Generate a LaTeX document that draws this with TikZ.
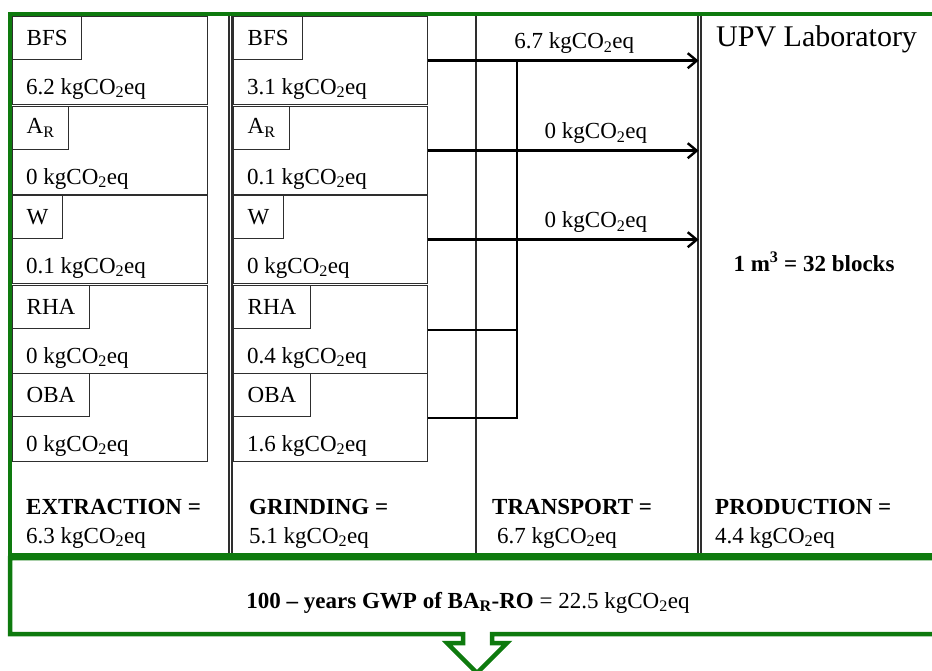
\documentclass[tikz,border=0pt]{standalone}
\usepackage{fontspec}
\setmainfont{Liberation Serif}
\usetikzlibrary{arrows.meta, positioning, calc}
\definecolor{verde}{HTML}{0E7A0E}
\definecolor{borde}{HTML}{2E2E2E}
\newcommand{\coeq}{kgCO\textsubscript{2}eq}
\newcommand{\tam}{\fontsize{23}{27}\selectfont}
\tikzset{
  columna/.style={rectangle, draw=borde, line width=1.6pt, anchor=north west, inner sep=0pt, minimum height=541pt},
  fila/.style={rectangle, draw=borde, line width=1.4pt, anchor=north west, inner sep=0pt, minimum height=88pt},
  etiq/.style={rectangle, draw=borde, line width=1.4pt, anchor=north west, inner xsep=14pt, inner ysep=0pt, minimum height=43pt},
  valor/.style={inner sep=0pt, above right=6pt and 14pt of #1},
  total/.style={anchor=base west, inner sep=0pt, align=left, font=\fontsize{23}{29}\selectfont},
  carga/.style={inner sep=0pt, above=6pt},
  flecha/.style={line width=2.4pt, -{Straight Barb[length=9pt, width=15pt]}, color=black},
  linea/.style={line width=2.4pt, color=black},
  marco/.style={draw=verde, line width=4.5pt}
}

\begin{document}
\begin{tikzpicture}[x=1pt, y=-1pt, font=\tam]
  \useasboundingbox (0,0) rectangle (932,671);
  \clip (0,0) rectangle (932,671);
  % stage columns
  \node (cext) [columna, minimum width=218pt] at (10,14) {};
  \node (cgri) [columna, minimum width=244pt] at (231,14) {};
  \node (ctra) [columna, minimum width=222pt] at (475,14) {};
  \node (cpro) [columna, minimum width=260pt] at (700,14) {};
  % extraction
  \node (e1) [fila, minimum width=195pt] at (12,16) {};
  \node (e2) [fila, minimum width=195pt] at (12,106) {};
  \node (e3) [fila, minimum width=195pt] at (12,195) {};
  \node (e4) [fila, minimum width=195pt] at (12,285) {};
  \node (e5) [fila, minimum width=195pt] at (12,373) {};
  \node (le1) [etiq] at (e1.north west) {BFS};
  \node (le2) [etiq] at (e2.north west) {A\textsubscript{R}};
  \node (le3) [etiq] at (e3.north west) {W};
  \node (le4) [etiq] at (e4.north west) {RHA};
  \node (le5) [etiq] at (e5.north west) {OBA};
  \node (ve1) [valor=e1.south west] {6.2 \coeq};
  \node (ve2) [valor=e2.south west] {0 \coeq};
  \node (ve3) [valor=e3.south west] {0.1 \coeq};
  \node (ve4) [valor=e4.south west] {0 \coeq};
  \node (ve5) [valor=e5.south west] {0 \coeq};
  % grinding
  \node (g1) [fila, minimum width=194pt] at (233,16) {};
  \node (g2) [fila, minimum width=194pt] at (233,106) {};
  \node (g3) [fila, minimum width=194pt] at (233,195) {};
  \node (g4) [fila, minimum width=194pt] at (233,285) {};
  \node (g5) [fila, minimum width=194pt] at (233,373) {};
  \node (lg1) [etiq] at (g1.north west) {BFS};
  \node (lg2) [etiq] at (g2.north west) {A\textsubscript{R}};
  \node (lg3) [etiq] at (g3.north west) {W};
  \node (lg4) [etiq] at (g4.north west) {RHA};
  \node (lg5) [etiq] at (g5.north west) {OBA};
  \node (vg1) [valor=g1.south west] {3.1 \coeq};
  \node (vg2) [valor=g2.south west] {0.1 \coeq};
  \node (vg3) [valor=g3.south west] {0 \coeq};
  \node (vg4) [valor=g4.south west] {0.4 \coeq};
  \node (vg5) [valor=g5.south west] {1.6 \coeq};
  % transport
  \coordinate (junta) at (517,60);
  \draw [linea] (g5.east) -| (junta);
  \draw [linea] (g4.east) -- (g4.east -| junta);
  \draw [flecha] (g1.east) -- (g1.east -| ctra.east) node [carga, pos=0.54] {6.7 \coeq};
  \draw [flecha] (g2.east) -- (g2.east -| ctra.east) node [carga, pos=0.62] {0 \coeq};
  \draw [flecha] (g3.east) -- (g3.east -| ctra.east) node [carga, pos=0.62] {0 \coeq};
  % production
  \node (lab) [anchor=base west, inner sep=0pt, font=\fontsize{30}{36}\selectfont] at (716,47) {UPV Laboratory};
  \node (blq) [anchor=base, inner sep=0pt, font=\tam\bfseries] at (814,272) {1 m\textsuperscript{3} = 32 blocks};
  % totals (base = second line)
  \node (text) [total] at (26,543) {\textbf{EXTRACTION =}\\6.3 \coeq};
  \node (tgri) [total] at (249,543) {\textbf{GRINDING =}\\5.1 \coeq};
  \node (ttra) [total] at (492,543) {\textbf{TRANSPORT =}\\\hspace{5pt}6.7 \coeq};
  \node (tpro) [total] at (715,543) {\textbf{PRODUCTION =}\\4.4 \coeq};
  % frame and result
  \draw [marco] (10,14) rectangle (960,555);
  \draw [marco, fill=white] (10,558) -- (960,558) -- (960,634) -- (492,634) -- (492,643) -- (507,643)
    -- (477,673) -- (447,643) -- (463,643) -- (463,634) -- (10,634) -- cycle;
  \node (gwp) [anchor=base, inner sep=0pt] at (468,608) {\textbf{100 -- years GWP of BA\textsubscript{R}-RO} = 22.5 \coeq};
\end{tikzpicture}
\end{document}
